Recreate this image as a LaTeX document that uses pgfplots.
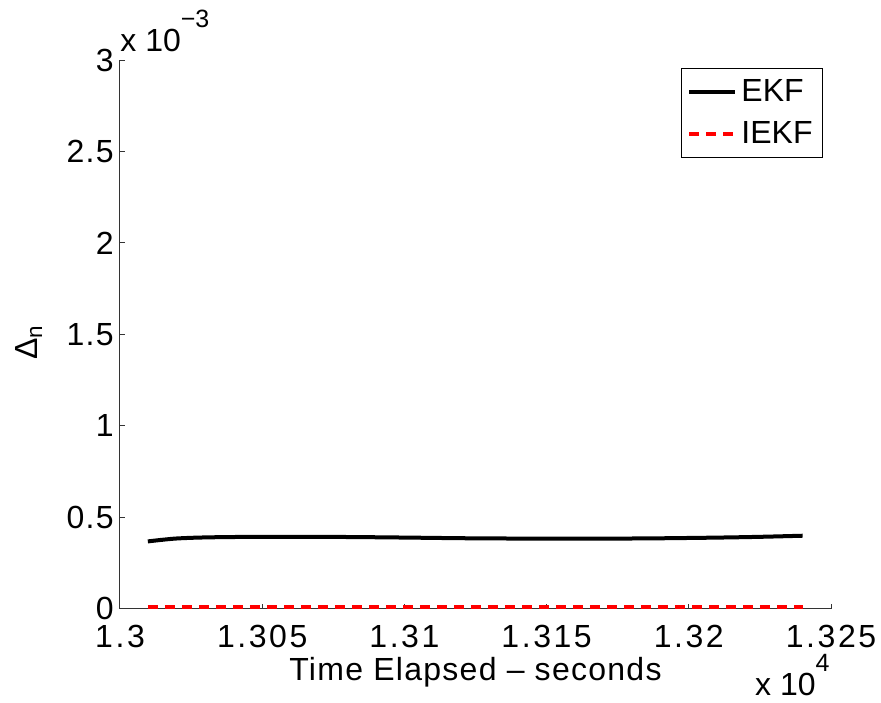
\documentclass[border=0pt]{standalone}
\usepackage{pgfplots}
\pgfplotsset{compat=1.18}
\usepackage{fontspec}
\setmainfont{Liberation Sans}
\newcommand{\mysup}[1]{\raisebox{0.75em}{\fontsize{12.5}{14}\selectfont #1}}
\begin{document}
\begin{tikzpicture}
\useasboundingbox (-60pt,-46.65pt) rectangle (380.5pt,304.35pt);
\begin{axis}[
  scale only axis,
  width=355.5pt, height=274.35pt,
  xmin=13000, xmax=13250, ymin=0, ymax=0.003,
  axis x line*=bottom, axis y line*=left,
  axis line style={line width=0.5pt, draw=black!80},
  tick style={line width=0.5pt, draw=black!80},
  tick align=inside, major tick length=2.5pt,
  xtick={13000,13050,13100,13150,13200,13250},
  ytick={0,0.0005,0.001,0.0015,0.002,0.0025,0.003},
  xticklabels={1.3,1.305,1.31,1.315,1.32,1.325},
  yticklabels={0,0.5,1,1.5,2,2.5,3},
  scaled ticks=false,
  /pgf/number format/assume math mode=true,
  xticklabel style={anchor=base, inner sep=0pt, yshift=-19.15pt, font=\fontsize{16}{19}\selectfont\addfontfeature{LetterSpace=8}},
  yticklabel style={anchor=east, inner sep=0pt, xshift=-3pt, font=\fontsize{16}{19}\selectfont\addfontfeature{LetterSpace=4}},
  xlabel={Time Elapsed – seconds},
  xlabel style={at={(axis description cs:0.5,0)}, anchor=base, yshift=-35.65pt, inner sep=0pt, font=\fontsize{16}{19}\selectfont\addfontfeature{LetterSpace=4}},
  ylabel={Δ\textsubscript{n}},
  ylabel style={at={(axis description cs:-0.1167,0.486)}, anchor=base, inner sep=0pt, font=\fontsize{16}{19}\selectfont},
  legend style={at={(rel axis cs:0.989,0.985)}, anchor=north east, draw=black, line width=0.6pt,
    font=\fontsize{16}{19}\selectfont, inner xsep=3pt, inner ysep=3.5pt, row sep=4.5pt},
  legend cell align=left,
  legend image code/.code={\draw[#1] (0pt,0pt) -- (23pt,0pt);},
  clip=false,
]
\addplot[black, line width=2pt, smooth] coordinates {
(13009.8,0.000368) (13015,0.000377) (13020,0.000384) (13028,0.000389) (13040,0.000392)
(13060,0.000393) (13080,0.000392) (13100,0.000389) (13123,0.000385) (13150,0.000383)
(13169,0.000383) (13190,0.000385) (13211,0.000389) (13225,0.000393) (13240,0.000399)
};
\addlegendentry{EKF}
\addplot[red, line width=2pt, dash pattern=on 5pt off 3.5pt] coordinates {
(13009.8,0.00001) (13240,0.00001)
};
\addlegendentry{IEKF}
\node[anchor=base west, inner sep=0pt, font=\fontsize{16}{19}\selectfont] at (rel axis cs:0,1) [yshift=4.2pt] {x 10\mysup{−3}};
\node[anchor=base east, inner sep=0pt, font=\fontsize{16}{19}\selectfont] at (rel axis cs:1,0) [yshift=-43.6pt, xshift=-0.5pt] {x 10\mysup{4}};
\end{axis}
\end{tikzpicture}
\end{document}
